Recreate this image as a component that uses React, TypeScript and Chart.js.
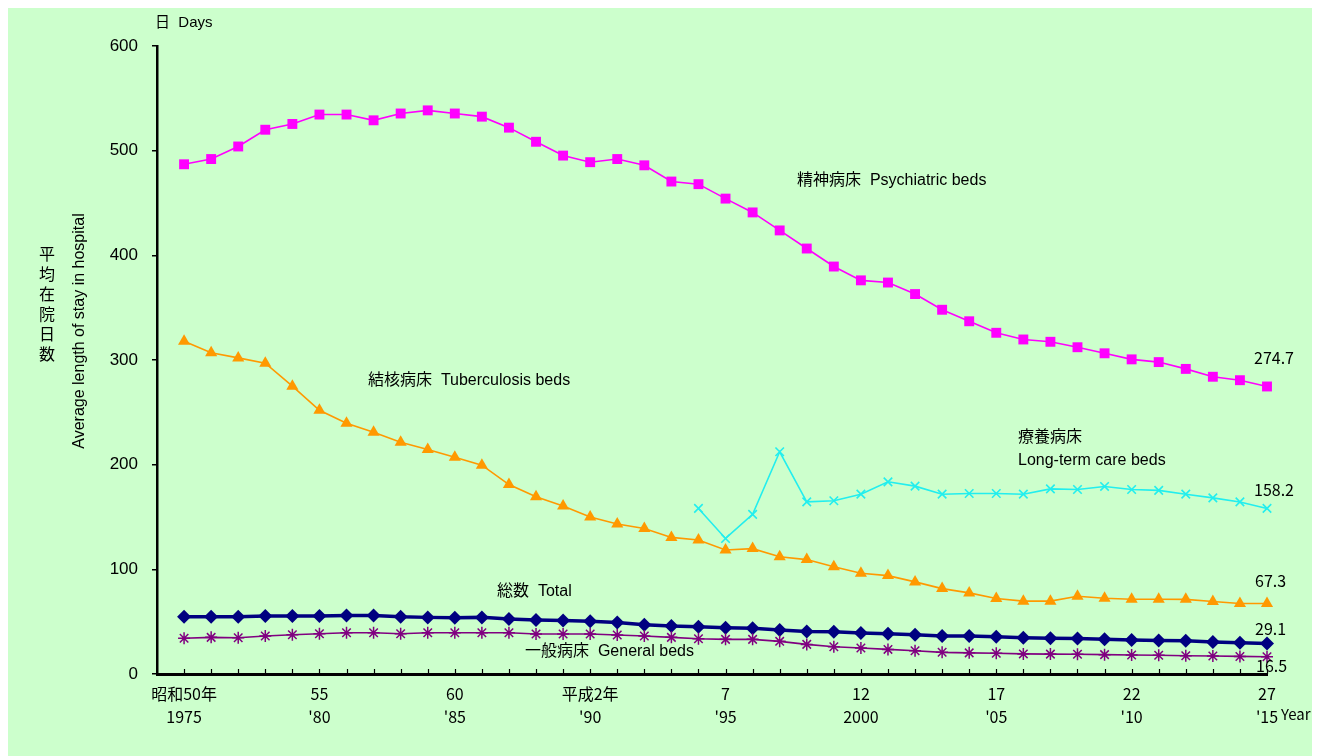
import React, { useEffect, useRef } from 'react';
import { Chart, registerables } from 'chart.js';

Chart.register(...registerables);

const years = [
  1975, 1976, 1977, 1978, 1979, 1980, 1981, 1982, 1983, 1984,
  1985, 1986, 1987, 1988, 1989, 1990, 1991, 1992, 1993, 1994,
  1995, 1996, 1997, 1998, 1999, 2000, 2001, 2002, 2003, 2004,
  2005, 2006, 2007, 2008, 2009, 2010, 2011, 2012, 2013, 2014, 2015,
];

const psychiatric = [
  487, 492, 504, 520, 525.5, 534.5, 534.5, 529, 535.5, 538.5,
  535.5, 532.5, 522, 508.5, 495.3, 489, 492, 486, 470.5, 468,
  454.2, 441, 423.8, 406.5, 389.3, 376.1, 374, 363, 348, 337,
  326, 319.6, 317.4, 312.2, 306.4, 300.6, 298, 291.5, 284, 280.7, 274.7,
];

const tuberculosis = [
  318, 307, 302, 297, 275, 252, 239.5, 231, 221.5, 214.5,
  207, 199.5, 181, 169.3, 160.5, 150, 143.3, 139, 130.5, 128,
  118.5, 119.8, 112, 109.3, 102.5, 96.3, 94, 88, 81.6, 77.5,
  72.2, 69.6, 69.6, 74.3, 72.3, 71.4, 71.4, 71.3, 69.2, 67.3, 67.3,
];

const longTermCare = [
  null, null, null, null, null, null, null, null, null, null,
  null, null, null, null, null, null, null, null, null, 158.2,
  129.5, 152.5, 212.3, 164.5, 165.5, 171.8, 183.6, 179.5, 171.8, 172.5,
  172.5, 171.8, 176.9, 176.3, 179.2, 176.3, 175.4, 171.8, 168.3, 164.4, 158.2,
];

const total = [
  54.7, 54.7, 54.7, 55.4, 55.4, 55.4, 56, 56, 54.7, 54.1,
  53.8, 54.1, 52.5, 51.6, 51.2, 50.3, 49.3, 47.1, 45.8, 45.2,
  44.2, 43.6, 42, 40.6, 40.3, 39.1, 38.4, 37.4, 36.3, 36.2,
  35.7, 34.7, 34.1, 33.8, 33.2, 32.5, 32, 31.7, 30.6, 29.9, 29.1,
];

const general = [
  34.1, 35, 34.7, 36.3, 37.5, 38.5, 39.4, 39.4, 38.5, 39.4,
  39.4, 39.4, 39.4, 38.2, 38.2, 38.2, 37.2, 36.3, 35, 33.7,
  33.1, 33.1, 31.2, 28.3, 26.1, 24.8, 23.5, 22.2, 20.7, 20.2,
  19.8, 19.2, 19, 18.8, 18.5, 18.2, 17.9, 17.5, 17.2, 16.8, 16.5,
];

const labelYears = [1975, 1980, 1985, 1990, 1995, 2000, 2005, 2010, 2015];
const eraLabels = ['昭和50年', '55', '60', '平成2年', '7', '12', '17', '22', '27'];
const westernLabels = ['1975', "'80", "'85", "'90", "'95", '2000', "'05", "'10", "'15"];

const yTicks = [0, 100, 200, 300, 400, 500, 600];

const yTitleJa = ['平', '均', '在', '院', '日', '数'];
const yTitleEn = 'Average length of stay in hospital';
const unitLabel = '日  Days';
const yearLabel = 'Year';

const seriesNames = {
  psychiatric: '精神病床  Psychiatric beds',
  tuberculosis: '結核病床  Tuberculosis beds',
  longTermJa: '療養病床',
  longTermEn: 'Long-term care beds',
  total: '総数  Total',
  general: '一般病床  General beds',
};

const endValues = ['274.7', '158.2', '67.3', '29.1', '16.5'];

const FONT = "'Liberation Sans', 'Noto Sans CJK JP', sans-serif";
const JFONT = "'Noto Sans CJK JP', 'Liberation Sans', sans-serif";

const toPoints = (vals: (number | null)[]) => years.map((x, i) => ({ x, y: vals[i] }));

const bgPlugin = {
  id: 'bg',
  beforeDraw(chart: any) {
    const { ctx, width, height } = chart;
    ctx.save();
    ctx.fillStyle = '#CCFFCC';
    ctx.fillRect(0, 0, width, height);
    ctx.restore();
  },
};

const xTickPlugin = {
  id: 'xTicksInside',
  afterDraw(chart: any) {
    const { ctx, chartArea } = chart;
    const xs = chart.scales.x;
    ctx.save();
    ctx.strokeStyle = '#000';
    ctx.lineWidth = 1.2;
    years.forEach((yr) => {
      const px = Math.round(xs.getPixelForValue(yr)) + 0.5;
      ctx.beginPath();
      ctx.moveTo(px, chartArea.bottom);
      ctx.lineTo(px, chartArea.bottom - 5);
      ctx.stroke();
    });
    ctx.restore();
  },
};

const textPlugin = {
  id: 'texts',
  afterDraw(chart: any) {
    const { ctx } = chart;
    ctx.save();
    ctx.fillStyle = '#000';
    ctx.textBaseline = 'middle';
    ctx.textAlign = 'left';
    ctx.font = `15px ${FONT}`;
    ctx.fillText(unitLabel, 147, 15);

    ctx.font = `16px ${JFONT}`;
    ctx.textAlign = 'center';
    yTitleJa.forEach((c, i) => ctx.fillText(c, 39, 246 + i * 20));

    ctx.save();
    ctx.translate(72, 323);
    ctx.rotate(-Math.PI / 2);
    ctx.font = `16px ${FONT}`;
    ctx.fillText(yTitleEn, 0, 0);
    ctx.restore();

    ctx.textAlign = 'left';
    ctx.font = `16px ${FONT}`;
    ctx.fillText(seriesNames.psychiatric, 789, 173);
    ctx.fillText(seriesNames.tuberculosis, 360, 373);
    ctx.fillText(seriesNames.longTermJa, 1010, 430);
    ctx.fillText(seriesNames.longTermEn, 1010, 453);
    ctx.fillText(seriesNames.total, 489, 584);
    ctx.fillText(seriesNames.general, 517, 644);

    ctx.font = `16px ${JFONT}`;
    ctx.fillText(endValues[0], 1246, 350);
    ctx.fillText(endValues[1], 1246, 482);
    ctx.fillText(endValues[2], 1247, 573);
    ctx.fillText(endValues[3], 1247, 621);
    ctx.fillText(endValues[4], 1248, 658);
    ctx.font = `15px ${JFONT}`;
    ctx.fillText(yearLabel, 1273, 706);
    ctx.restore();
  },
};

export default function App() {
  const ref = useRef<HTMLCanvasElement | null>(null);

  useEffect(() => {
    if (!ref.current) return;
    const chart = new Chart(ref.current, {
      type: 'line',
      data: {
        datasets: [
          {
            label: 'psychiatric',
            data: toPoints(psychiatric),
            borderColor: '#FF00FF',
            backgroundColor: '#FF00FF',
            borderWidth: 1.6,
            pointStyle: 'rect',
            pointRadius: 7,
            pointBorderWidth: 0,
          },
          {
            label: 'tuberculosis',
            data: toPoints(tuberculosis),
            borderColor: '#FF9900',
            backgroundColor: '#FF9900',
            borderWidth: 1.6,
            pointStyle: 'triangle',
            pointRadius: 7,
            pointBorderWidth: 0,
          },
          {
            label: 'longTermCare',
            data: toPoints(longTermCare),
            borderColor: '#22EEEE',
            backgroundColor: '#22EEEE',
            borderWidth: 1.6,
            pointStyle: 'crossRot',
            pointRadius: 6,
            pointBorderWidth: 1.6,
            spanGaps: false,
          },
          {
            label: 'general',
            data: toPoints(general),
            borderColor: '#800080',
            backgroundColor: '#800080',
            borderWidth: 1.6,
            pointStyle: 'star',
            pointRadius: 6,
            pointBorderWidth: 1.5,
          },
          {
            label: 'total',
            data: toPoints(total),
            borderColor: '#000080',
            backgroundColor: '#000080',
            borderWidth: 3.5,
            pointStyle: 'rectRot',
            pointRadius: 7,
            pointBorderWidth: 0,
          },
        ],
      },
      options: {
        animation: false,
        responsive: false,
        devicePixelRatio: 1,
        clip: false,
        layout: { padding: { top: 38, right: 53, left: 0, bottom: 0 } },
        plugins: { legend: { display: false }, tooltip: { enabled: false } },
        elements: { line: { tension: 0 } },
        scales: {
          x: {
            type: 'linear',
            min: 1974,
            max: 2015,
            afterFit: (s: any) => { s.height = 82; },
            afterBuildTicks: (s: any) => {
              s.ticks = labelYears.map((v) => ({ value: v }));
            },
            grid: { display: false, drawTicks: false },
            border: { display: true, color: '#000', width: 3 },
            ticks: {
              autoSkip: false,
              maxRotation: 0,
              padding: 9,
              color: '#000',
              font: { family: JFONT, size: 16, lineHeight: 1.4 },
              callback: (v: any) => {
                const i = labelYears.indexOf(Number(v));
                return i >= 0 ? [eraLabels[i], westernLabels[i]] : '';
              },
            },
          },
          y: {
            min: 0,
            max: 600,
            afterFit: (s: any) => { s.width = 149; },
            afterBuildTicks: (s: any) => {
              s.ticks = yTicks.map((v) => ({ value: v }));
            },
            grid: { drawOnChartArea: false, drawTicks: true, tickLength: 5, color: '#000', lineWidth: 1.5 },
            border: { display: true, color: '#000', width: 2.5 },
            ticks: {
              padding: 14,
              color: '#000',
              font: { family: FONT, size: 17 },
            },
          },
        },
      },
      plugins: [bgPlugin, xTickPlugin, textPlugin],
    } as any);
    return () => chart.destroy();
  }, []);

  return (
    <div style={{ width: 1312, height: 748, background: '#CCFFCC' }}>
      <canvas ref={ref} width={1312} height={748} style={{ display: 'block' }} />
    </div>
  );
}
